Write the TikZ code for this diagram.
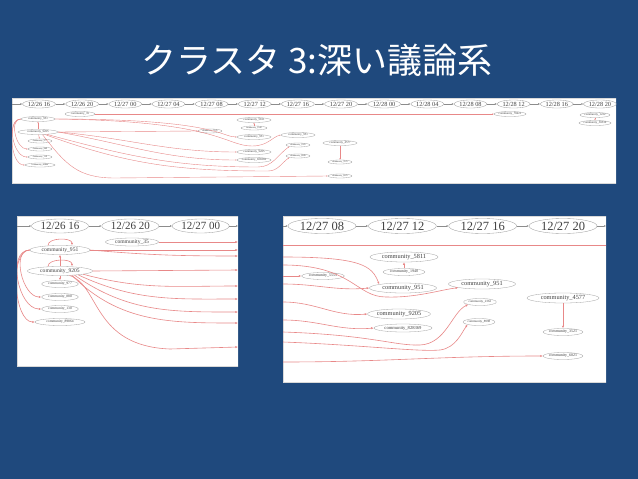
\documentclass[tikz,border=0pt]{standalone}
\usepackage{fontspec}
\setmainfont{Liberation Serif}
\newfontfamily\cjk{Noto Sans CJK JP}
\usepackage{tikz}
\usetikzlibrary{arrows.meta, positioning, shapes.geometric}
\definecolor{slideblue}{RGB}{31, 73, 125}
\definecolor{linkred}{RGB}{232, 136, 136}
\definecolor{ovalgray}{RGB}{160, 160, 160}

\begin{document}
\begin{tikzpicture}[
    x=1pt, y=-1pt,
    title/.style={
      text=white,
      font=\cjk\fontsize{35}{40}\selectfont
    },
    panel/.style={
      fill=white,
      draw=gray!30,
      line width=0.3pt
    },
    tick/.style={
      ellipse,
      draw=ovalgray,
      fill=white,
      line width=0.35pt,
      inner sep=0pt,
      text=black!75
    },
    tickA/.style={tick, minimum width=33pt, minimum height=8pt, font=\fontsize{6.3}{7}\selectfont},
    tickB/.style={tick, minimum width=57pt, minimum height=14pt, font=\fontsize{11}{12}\selectfont},
    tickC/.style={tick, minimum width=68pt, minimum height=15pt, font=\fontsize{12.5}{14}\selectfont},
    comm/.style={
      ellipse,
      draw=ovalgray,
      fill=white,
      line width=0.3pt,
      inner sep=0pt,
      text=black!75
    },
    commA/.style={comm, minimum width=34pt, minimum height=5pt, font=\fontsize{3}{3.5}\selectfont},
    commAs/.style={comm, minimum width=24pt, minimum height=4pt, font=\fontsize{2.2}{2.6}\selectfont},
    commB/.style={comm, minimum width=60pt, minimum height=9pt, font=\fontsize{5.6}{6.5}\selectfont},
    commBs/.style={comm, minimum width=37pt, minimum height=7pt, font=\fontsize{3.6}{4.2}\selectfont},
    commC/.style={comm, minimum width=68pt, minimum height=10pt, font=\fontsize{6.3}{7.2}\selectfont},
    commCs/.style={comm, minimum width=40pt, minimum height=7pt, font=\fontsize{4}{4.6}\selectfont},
    timearrow/.style={
      -{Latex[length=2pt, width=1.8pt]},
      line width=0.35pt,
      draw=black!45
    },
    link/.style={
      -{Latex[length=2.6pt, width=2.2pt]},
      line width=0.6pt,
      draw=linkred
    },
    linkA/.style={
      -{Latex[length=1.4pt, width=1.2pt]},
      line width=0.4pt,
      draw=linkred
    }
  ]

    % Slide
    \fill[slideblue] (0,0) rectangle (638,479);
    \node[title] (ttl) at (317,60) {クラスタ 3:深い議論系};

    % Panel 1: whole timeline
    \begin{scope}
      \clip (12,98) rectangle (616,183);
      \draw[panel] (12,98) rectangle (616,183);

      \coordinate (t1in) at (12,104);
      \node[tickA] (t1a) at (39,104) {12/26 16};
      \node[tickA, right=9.8pt of t1a] (t1b) {12/26 20};
      \node[tickA, right=9.8pt of t1b] (t1c) {12/27 00};
      \node[tickA, right=9.8pt of t1c] (t1d) {12/27 04};
      \node[tickA, right=9.8pt of t1d] (t1e) {12/27 08};
      \node[tickA, right=9.8pt of t1e] (t1f) {12/27 12};
      \node[tickA, right=9.8pt of t1f] (t1g) {12/27 16};
      \node[tickA, right=9.8pt of t1g] (t1h) {12/27 20};
      \node[tickA, right=9.8pt of t1h] (t1i) {12/28 00};
      \node[tickA, right=9.8pt of t1i] (t1j) {12/28 04};
      \node[tickA, right=9.8pt of t1j] (t1k) {12/28 08};
      \node[tickA, right=9.8pt of t1k] (t1l) {12/28 12};
      \node[tickA, right=9.8pt of t1l] (t1m) {12/28 16};
      \node[tickA, right=9.8pt of t1m] (t1n) {12/28 20};

      \draw[timearrow] (t1in) -- (t1a);
      \draw[timearrow] (t1a) -- (t1b);
      \draw[timearrow] (t1b) -- (t1c);
      \draw[timearrow] (t1c) -- (t1d);
      \draw[timearrow] (t1d) -- (t1e);
      \draw[timearrow] (t1e) -- (t1f);
      \draw[timearrow] (t1f) -- (t1g);
      \draw[timearrow] (t1g) -- (t1h);
      \draw[timearrow] (t1h) -- (t1i);
      \draw[timearrow] (t1i) -- (t1j);
      \draw[timearrow] (t1j) -- (t1k);
      \draw[timearrow] (t1k) -- (t1l);
      \draw[timearrow] (t1l) -- (t1m);
      \draw[timearrow] (t1m) -- (t1n);

      \node[commA, minimum width=30pt] (p1c35) at (80,114) {community\_35};
      \node[commA] (p1c951) at (38,119) {community\_951};
      \node[commA, minimum width=40pt] (p1c9205) at (38,132) {community\_9205};
      \node[commAs] (p1c977) at (40,141) {community\_977};
      \node[commAs] (p1c880) at (40,149) {community\_880};
      \node[commAs] (p1c130) at (40,157) {community\_130};
      \node[commAs, minimum width=30pt] (p1c89864) at (40,165) {community\_89864};
      \node[commAs] (p1c5555) at (210,131) {community\_5555};
      \node[commA] (p1c5811) at (254,120) {community\_5811};
      \node[commAs, minimum width=26pt] (p1c1940) at (254,128) {community\_1940};
      \node[commA] (p1c951b) at (254,137) {community\_951};
      \node[commA] (p1c9205b) at (254,152) {community\_9205};
      \node[commA] (p1c828) at (254,160) {community\_828369};
      \node[commA] (p1c951c) at (298,135) {community\_951};
      \node[commAs] (p1c2362) at (298,145) {community\_2362};
      \node[commAs] (p1c8998) at (298,156) {community\_8998};
      \node[commA] (p1c4577) at (340,143) {community\_4577};
      \node[commAs] (p1c3521) at (340,162) {community\_3521};
      \node[commAs] (p1c6021) at (340,176) {community\_6021};
      \node[commA, minimum width=30pt] (p1c7842) at (510,114) {community\_78421};
      \node[commA, minimum width=30pt] (p1c1222) at (595,115) {community\_1222};
      \node[commA, minimum width=32pt] (p1c3053) at (595,123) {community\_30539};

      \draw[linkA] (p1c35) -- (p1c7842);
      \draw[linkA] (p1c9205) -- (p1c951);
      \draw[linkA] (p1c9205) -- (p1c977);
      \draw[linkA] (p1c951.west) to[out=180, in=180] (p1c880.west);
      \draw[linkA] (p1c951.west) to[out=180, in=180] (p1c130.west);
      \draw[linkA] (p1c951.west) to[out=180, in=180, looseness=0.8] (p1c89864.west);
      \draw[linkA] (p1c951.east) .. controls (215,119) and (222,137) .. (p1c951b.west);
      \draw[linkA] (p1c951.east) .. controls (220,121) and (225,146) .. (252,146)
        .. controls (268,146) and (272,137) .. (p1c951c.west);
      \draw[linkA] (p1c9205.east) -- (p1c5555.west);
      \draw[linkA] (p1c9205.east) to[out=-5, in=180] (p1c9205b.west);
      \draw[linkA] (p1c9205.east) to[out=-10, in=180] (p1c828.west);
      \draw[linkA] (p1c9205.-15) to[out=-15, in=180] (258,167) to[out=0, in=215] (p1c2362.south west);
      \draw[linkA] (p1c9205.-20) to[out=-20, in=180] (268,171) to[out=0, in=215] (p1c8998.south west);
      \draw[linkA] (p1c9205.-30) .. controls (66,165) and (78,178) .. (115,178) -- (p1c6021.west);
      \draw[linkA] (p1c1940) -- (p1c5811);
      \draw[linkA] (p1c4577) -- (p1c3521);
      \draw[linkA] (p1c1222) -- (p1c3053);
    \end{scope}

    % Panel 2: 12/26 16 - 12/27 00
    \begin{scope}
      \clip (17,216) rectangle (238,366);
      \draw[panel] (17,216) rectangle (238,366);

      \coordinate (t2in) at (17,226);
      \coordinate (t2out) at (238,226);
      \node[tickB] (t2a) at (60,226) {12/26 16};
      \node[tickB, right=13pt of t2a] (t2b) {12/26 20};
      \node[tickB, right=13pt of t2b] (t2c) {12/27 00};

      \draw[timearrow] (t2in) -- (t2a);
      \draw[timearrow] (t2a) -- (t2b);
      \draw[timearrow] (t2b) -- (t2c);
      \draw[timearrow] (t2c) -- (t2out);

      \node[commB, minimum width=53pt, minimum height=8pt] (p2c35) at (132,242) {community\_35};
      \node[commB] (p2c951) at (60,250) {community\_951};
      \node[commB, minimum width=65pt] (p2c9205) at (60,271) {community\_9205};
      \node[commBs] (p2c977) at (60,284) {community\_977};
      \node[commBs] (p2c880) at (60,297) {community\_880};
      \node[commBs] (p2c130) at (60,309) {community\_130};
      \node[commBs, minimum width=50pt] (p2c89864) at (60,322) {community\_89864};

      \coordinate (p2r1) at (238,242);
      \coordinate (p2r2) at (238,250);
      \coordinate (p2r3) at (238,256);
      \coordinate (p2r4) at (238,270);
      \coordinate (p2r5) at (238,286);
      \coordinate (p2r6) at (238,299);
      \coordinate (p2r7) at (238,312);
      \coordinate (p2r8) at (238,323);
      \coordinate (p2r9) at (238,347);

      \draw[link] (p2c9205) -- (p2c951);
      \draw[link] (p2c9205) -- (p2c977);
      \draw[link] ([xshift=-12pt]p2c951.north) .. controls +(0,-8) and +(0,-8) .. ([xshift=12pt]p2c951.north);
      \draw[link] ([xshift=-12pt]p2c9205.north) .. controls +(0,-8) and +(0,-8) .. ([xshift=12pt]p2c9205.north);
      \draw[link] (p2c951.west) to[out=180, in=180] (p2c880.west);
      \draw[link] (p2c951.west) to[out=180, in=180] (p2c130.west);
      \draw[link] (p2c951.west) to[out=180, in=180, looseness=0.75] (p2c89864.west);

      \draw[link] (p2c35) -- (p2r1);
      \draw[link] (p2c951.east) -- (p2r2);
      \draw[link] (p2c951.east) to[out=-5, in=180] (p2r3);
      \draw[link] (p2c9205.east) -- (p2r4);
      \draw[link] (p2c9205.-8) to[out=-15, in=180] (p2r5);
      \draw[link] (p2c9205.-12) to[out=-25, in=180] (p2r6);
      \draw[link] (p2c9205.-16) to[out=-35, in=180] (p2r7);
      \draw[link] (p2c9205.-20) to[out=-45, in=180] (p2r8);
      \draw[link] (p2c9205.-25) .. controls (100,285) and (92,346) .. (170,349) -- (p2r9);
    \end{scope}

    % Panel 3: 12/27 08 - 12/27 20
    \begin{scope}
      \clip (283,216) rectangle (606,382);
      \draw[panel] (283,216) rectangle (606,382);

      \coordinate (t3in) at (283,226);
      \coordinate (t3out) at (606,226);
      \node[tickC] (t3a) at (322,226) {12/27 08};
      \node[tickC, right=12pt of t3a] (t3b) {12/27 12};
      \node[tickC, right=12pt of t3b] (t3c) {12/27 16};
      \node[tickC, right=12pt of t3c] (t3d) {12/27 20};

      \draw[timearrow] (t3in) -- (t3a);
      \draw[timearrow] (t3a) -- (t3b);
      \draw[timearrow] (t3b) -- (t3c);
      \draw[timearrow] (t3c) -- (t3d);
      \draw[timearrow] (t3d) -- (t3out);

      \node[commC] (p3c5811) at (404,257) {community\_5811};
      \node[commCs, minimum width=42pt] (p3c1940) at (404,272) {community\_1940};
      \node[commCs, minimum width=43pt] (p3c5555) at (323,276) {community\_5555};
      \node[commC, minimum width=67pt] (p3c951) at (403,288) {community\_951};
      \node[commC, minimum width=67pt] (p3c951b) at (482,284) {community\_951};
      \node[commCs, minimum width=33pt, font=\fontsize{3.2}{3.8}\selectfont] (p3c2362) at (480,302) {community\_2362};
      \node[commC, minimum width=62pt] (p3c9205) at (399,314) {community\_9205};
      \node[commCs, minimum width=32pt, font=\fontsize{3.2}{3.8}\selectfont] (p3c8998) at (479,322) {community\_8998};
      \node[commC, minimum width=58pt, minimum height=8pt, font=\fontsize{4.6}{5.4}\selectfont] (p3c828) at (403,328) {community\_828369};
      \node[commC, minimum width=72pt] (p3c4577) at (563,298) {community\_4577};
      \node[commCs] (p3c3521) at (563,332) {community\_3521};
      \node[commCs, minimum width=38pt] (p3c6021) at (563,356) {community\_6021};

      \coordinate (p3l0) at (283,245.5);
      \coordinate (p3r0) at (606,245.5);
      \coordinate (p3l1) at (283,257);
      \coordinate (p3l2) at (283,265);
      \coordinate (p3l3) at (283,276);
      \coordinate (p3l4) at (283,284);
      \coordinate (p3l5) at (283,302);
      \coordinate (p3l6) at (283,320);
      \coordinate (p3l7) at (283,332);
      \coordinate (p3l8) at (283,342);
      \coordinate (p3l9) at (283,362);

      \draw[link, -] (p3l0) -- (p3r0);
      \draw[link] (p3l1) .. controls (362,257) and (372,266) .. (p3c951.north west);
      \draw[link] (p3l2) .. controls (352,265) and (356,297) .. (386,297)
        .. controls (415,298) and (440,290) .. (p3c951b.south west);
      \draw[link] (p3l3) -- (p3c5555.west);
      \draw[link] (p3l4) to[out=0, in=185] (p3c951.west);
      \draw[link] (p3l5) to[out=0, in=185] (p3c9205.west);
      \draw[link] (p3l6) to[out=0, in=185] (p3c828.west);
      \draw[link] (p3l7) .. controls (372,335) and (395,346) .. (420,345)
        .. controls (446,344) and (452,312) .. (p3c2362.south west);
      \draw[link] (p3l8) .. controls (362,345) and (418,352) .. (440,350)
        .. controls (456,348) and (462,332) .. (p3c8998.south west);
      \draw[link] (p3l9) to[out=0, in=180] (p3c6021.west);
      \draw[link] (p3c1940) -- (p3c5811);
      \draw[link] (p3c4577) -- (p3c3521);
    \end{scope}

  \end{tikzpicture}
\end{document}
